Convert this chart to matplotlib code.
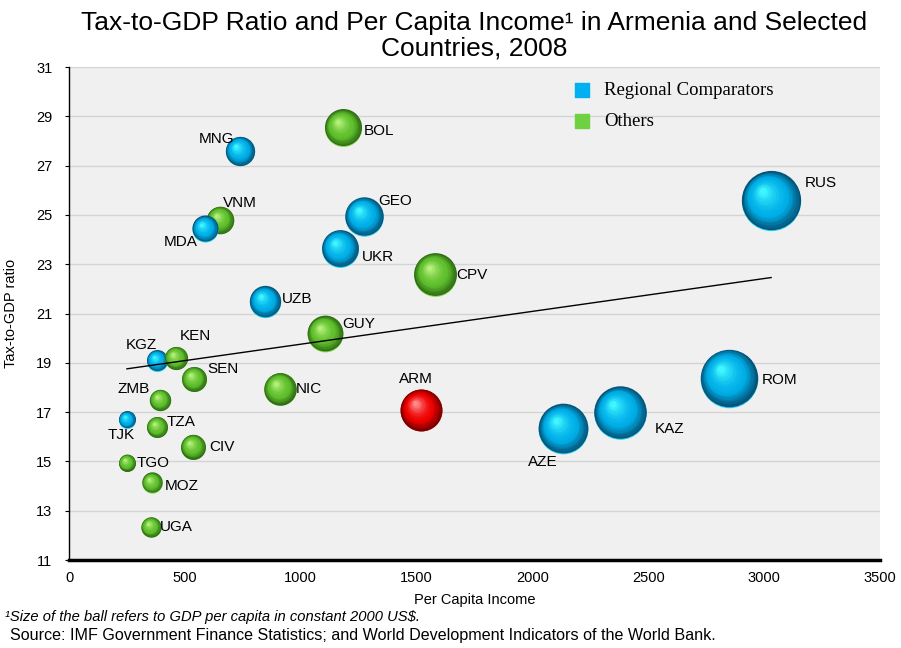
import numpy as np
import matplotlib
matplotlib.use("Agg")
import matplotlib.pyplot as plt
import matplotlib.transforms as mtransforms
from matplotlib.colors import to_rgb

plt.rcParams['font.family'] = ['Liberation Sans', 'DejaVu Sans']

# data
countries = ["RUS", "ROM", "KAZ", "AZE", "ARM", "GEO", "UKR", "BOL", "CPV", "GUY",
             "NIC", "UZB", "MNG", "VNM", "MDA", "KGZ", "KEN", "SEN", "ZMB", "TJK",
             "TZA", "CIV", "TGO", "MOZ", "UGA"]
income = [3030, 2848, 2378, 2132, 1519, 1273, 1170, 1183, 1580, 1105,
          911, 846, 738, 652, 587, 380, 462, 539, 393, 250,
          380, 535, 250, 358, 354]
tax_ratio = [25.6, 18.4, 17.0, 16.35, 17.1, 24.95, 23.65, 28.55, 22.6, 20.2,
             17.95, 21.5, 27.6, 24.8, 24.45, 19.1, 19.2, 18.35, 17.5, 16.7,
             16.4, 15.6, 14.95, 14.15, 12.35]
group = ["reg", "reg", "reg", "reg", "arm", "reg", "reg", "oth", "oth", "oth",
         "oth", "reg", "reg", "oth", "reg", "reg", "oth", "oth", "oth", "reg",
         "oth", "oth", "oth", "oth", "oth"]

# label placement: (dx px, dy px, ha)
label_pos = {
    "RUS": (34, 17, "left"), "ROM": (33, -2, "left"), "KAZ": (35, -17, "left"),
    "AZE": (-20, -34, "center"), "ARM": (-5, 31, "center"), "GEO": (14, 15, "left"),
    "UKR": (22, -9, "left"), "BOL": (21, -4, "left"), "CPV": (21, -1, "left"),
    "GUY": (17, 9, "left"), "NIC": (16, 0, "left"), "UZB": (17, 2, "left"),
    "MNG": (-6, 12, "right"), "VNM": (3, 17, "left"), "MDA": (-7, -14, "right"),
    "KGZ": (-16, 15, "center"), "KEN": (4, 22, "left"), "SEN": (13, 10, "left"),
    "ZMB": (-10, 11, "right"), "TJK": (-6, -16, "center"), "TZA": (10, 5, "left"),
    "CIV": (16, 0, "left"), "TGO": (10, 0, "left"), "MOZ": (13, -4, "left"),
    "UGA": (9, 0, "left"),
}

palette = {
    "reg": ("#05557a", "#00aee8", "#3ff5ff"),
    "oth": ("#2f6e14", "#5fbf2c", "#b4f07a"),
    "arm": ("#7a0000", "#ee0000", "#ff8a8a"),
}


def blend(c1, c2, t):
    a = np.array(to_rgb(c1))
    b = np.array(to_rgb(c2))
    return tuple(a + (b - a) * t)


def sphere(ax, fig, x, y, s, cols):
    dark, base, light = cols
    r = np.sqrt(s) / 2.0
    # faint light rim at the bottom
    tr = mtransforms.offset_copy(ax.transData, fig=fig, x=0.0, y=-0.04 * r, units='points')
    ax.scatter([x], [y], s=(2 * r) ** 2, color=blend(base, light, 0.5), linewidths=0,
               transform=tr, zorder=3)
    n = 16
    for i in range(n):
        t = i / (n - 1)
        f = 1.0 - 0.88 * t
        if t < 0.35:
            c = blend(dark, base, t / 0.35)
        else:
            c = blend(base, light, ((t - 0.35) / 0.65) ** 1.6)
        tr = mtransforms.offset_copy(ax.transData, fig=fig,
                                     x=-0.28 * r * t, y=0.30 * r * t, units='points')
        ax.scatter([x], [y], s=(2 * r * f) ** 2, color=c, linewidths=0,
                   transform=tr, zorder=3)


fig = plt.figure(figsize=(9.01, 6.48), dpi=100)
ax = fig.add_axes([0.0766, 0.1358, 0.9001, 0.7608])
ax.set_facecolor("#f0f0f0")

sizes = 0.60 * np.array(income)
for cc, xv, yv, sv, g in zip(countries, income, tax_ratio, sizes, group):
    sphere(ax, fig, xv, yv, sv, palette[g])
    dx, dy, ha = label_pos[cc]
    ax.annotate(cc, (xv, yv), xytext=(dx, dy), textcoords='offset pixels',
                ha=ha, va='center', fontsize=11, zorder=5)

# linear trend
coef = np.polyfit(income, tax_ratio, 1)
xs = np.array([min(income), max(income)])
ax.plot(xs, np.polyval(coef, xs), color='black', lw=1, zorder=4)

ax.set_xlim(0, 3500)
ax.set_ylim(11, 31)
ax.set_xticks(np.arange(0, 3501, 500))
ax.set_yticks(np.arange(11, 32, 2))
ax.yaxis.grid(True, color="#d4d4d4", lw=1)
ax.set_axisbelow(True)
for sp in ["top", "right"]:
    ax.spines[sp].set_visible(False)
ax.spines["bottom"].set_linewidth(2.5)
ax.spines["left"].set_linewidth(1)
ax.tick_params(axis='both', labelsize=10.5, direction='out')
ax.tick_params(axis='y', length=3, pad=9)
ax.tick_params(axis='x', length=0, pad=8)
ax.set_xlabel("Per Capita Income", fontsize=10.5, labelpad=6)
ax.set_ylabel("Tax-to-GDP ratio", fontsize=10.5)
ax.yaxis.set_label_coords(-0.063, 0.5)

ax.set_title("Tax-to-GDP Ratio and Per Capita Income\u00b9 in Armenia and Selected\nCountries, 2008",
             fontsize=19, pad=8, linespacing=1.1)

# legend
ax.scatter([], [], marker='s', s=110, color="#00b0f0", label="Regional Comparators")
ax.scatter([], [], marker='s', s=110, color="#6dd143", label="Others")
ax.legend(loc='upper left', bbox_to_anchor=(0.6, 0.985), frameon=False,
          prop={'family': 'Liberation Serif', 'size': 13.5},
          handletextpad=0.2, labelspacing=0.75, borderaxespad=0)

fig.text(0.005, 0.042, "\u00b9Size of the ball refers to GDP per capita in constant 2000 US$.",
         fontsize=10.6, style='italic')
fig.text(0.011, 0.013, "Source: IMF Government Finance Statistics; and World Development Indicators of the World Bank.",
         fontsize=11.6)

fig.savefig("out.png", dpi=100)
